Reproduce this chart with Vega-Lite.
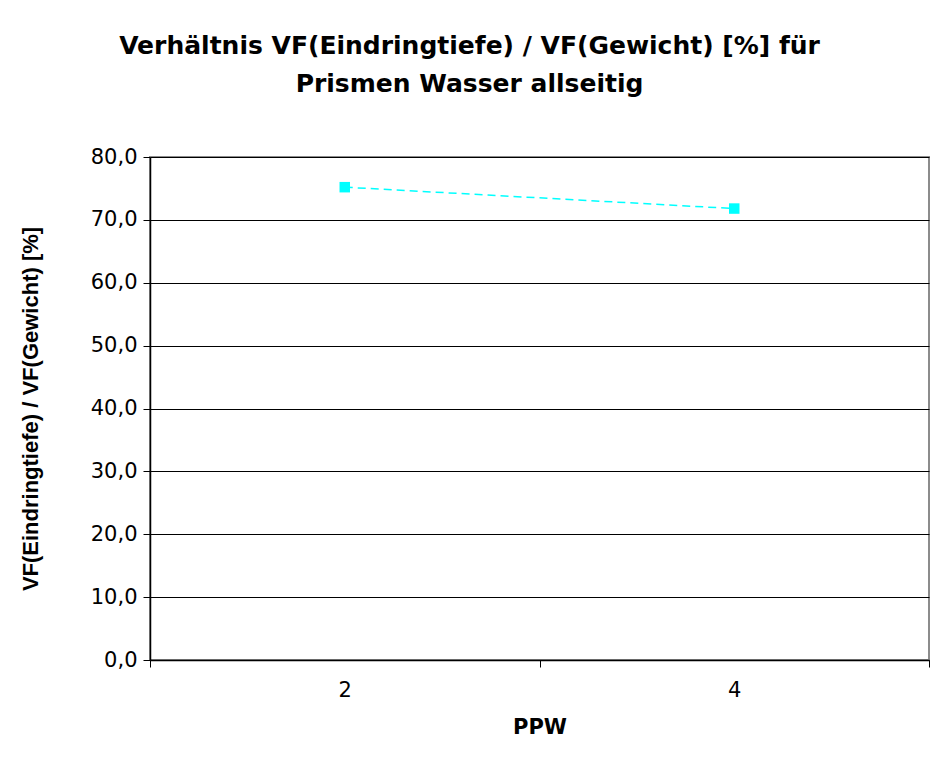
{
  "$schema": "https://vega.github.io/schema/vega-lite/v6.json",
  "autosize": {"type": "none"},
  "width": 779,
  "height": 503,
  "padding": {"left": 150, "top": 157, "right": 10, "bottom": 102},
  "background": "white",
  "title": {
    "text": ["Verhältnis VF(Eindringtiefe) / VF(Gewicht) [%] für", "Prismen Wasser allseitig"],
    "font": "DejaVu Sans",
    "fontSize": 25,
    "fontWeight": "bold",
    "color": "black",
    "anchor": "middle",
    "frame": "group",
    "dx": -70,
    "offset": 49,
    "lineHeight": 38
  },
  "config": {
    "view": {"stroke": "#8c8c8c", "strokeWidth": 2},
    "axis": {
      "labelFont": "DejaVu Sans",
      "titleFont": "DejaVu Sans",
      "labelColor": "black",
      "titleColor": "black",
      "domainColor": "black",
      "tickColor": "black",
      "labelFontSize": 21,
      "titleFontSize": 21,
      "titleFontWeight": "bold",
      "tickSize": 7,
      "domainWidth": 1.5,
      "tickWidth": 1
    }
  },
  "data": {
    "values": [
      {"PPW": "2", "Verhaeltnis": 75.2},
      {"PPW": "4", "Verhaeltnis": 71.8}
    ]
  },
  "encoding": {
    "x": {
      "field": "PPW",
      "type": "ordinal",
      "scale": {"paddingInner": 0, "paddingOuter": 0},
      "axis": {
        "title": "PPW",
        "labelAngle": 0,
        "tickBand": "extent",
        "labelPadding": 12,
        "titlePadding": 16,
        "grid": false
      }
    },
    "y": {
      "field": "Verhaeltnis",
      "type": "quantitative",
      "scale": {"domain": [0, 80]},
      "axis": {
        "title": "VF(Eindringtiefe) / VF(Gewicht) [%]",
        "titleFont": "Liberation Sans",
        "titleFontSize": 22,
        "values": [0, 10, 20, 30, 40, 50, 60, 70, 80],
        "labelExpr": "replace(format(datum.value, '.1f'), '.', ',')",
        "grid": true,
        "gridColor": "black",
        "gridWidth": 1,
        "gridOpacity": 1,
        "labelPadding": 6,
        "titlePadding": 48
      }
    }
  },
  "layer": [
    {
      "mark": {"type": "line", "color": "#00FFFF", "strokeWidth": 1.5, "strokeDash": [8, 5]}
    },
    {
      "mark": {"type": "point", "shape": "square", "filled": true, "color": "#00FFFF", "size": 110, "opacity": 1}
    }
  ]
}
